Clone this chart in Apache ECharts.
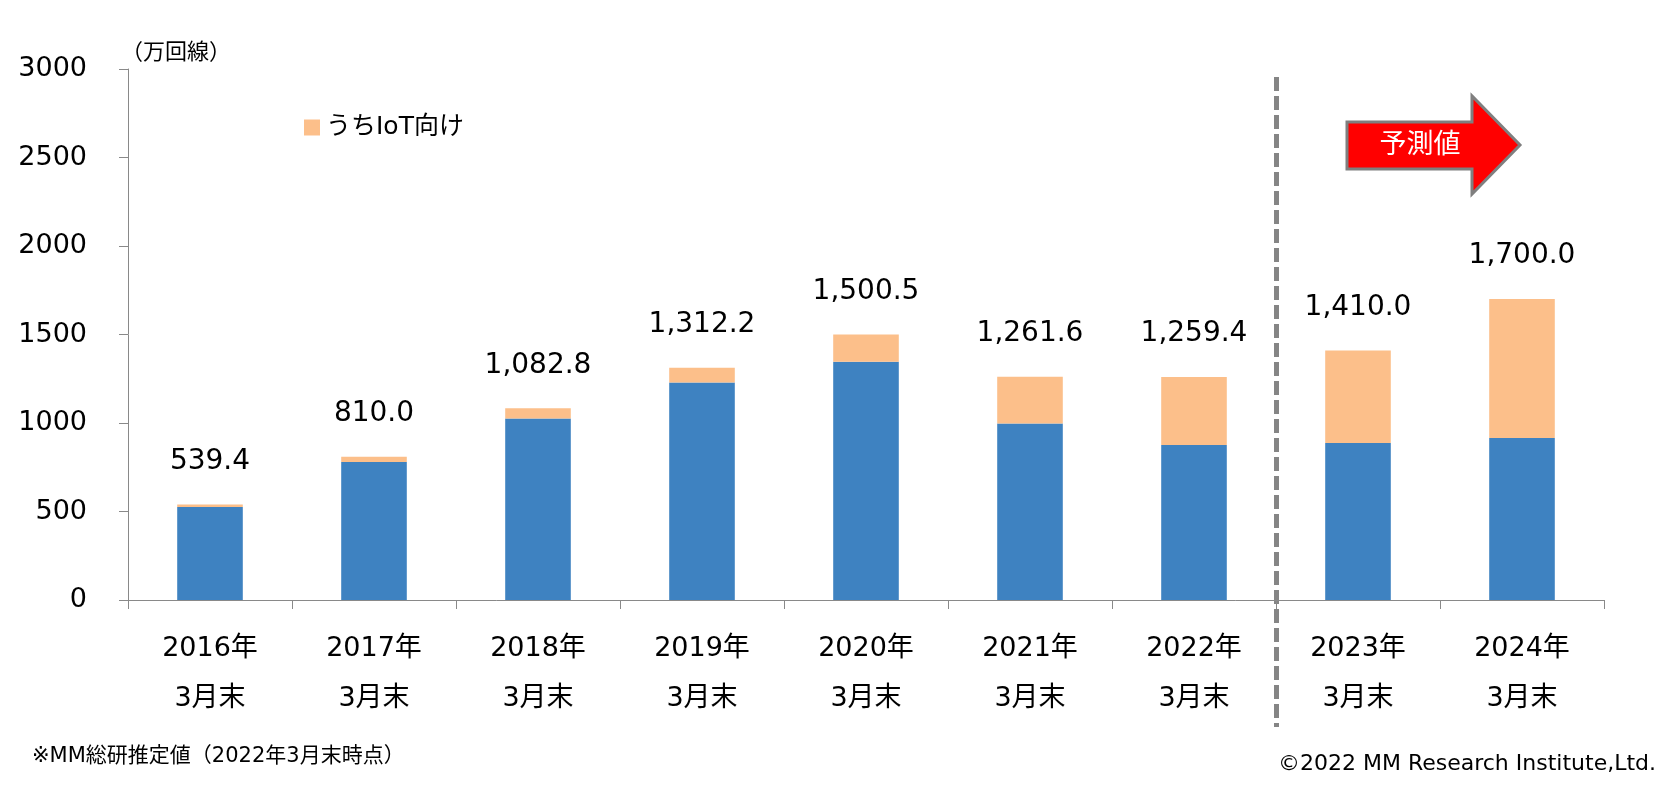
<!DOCTYPE html>
<html>
<head>
<meta charset="utf-8">
<script src="https://cdn.jsdelivr.net/npm/echarts@6/dist/echarts.min.js"></script>
<style>
html,body{margin:0;padding:0;background:#fff;}
#chart{width:1677px;height:800px;}
</style>
</head>
<body>
<div id="chart"></div>
<script>
const categories = ['2016年\n3月末','2017年\n3月末','2018年\n3月末','2019年\n3月末','2020年\n3月末','2021年\n3月末','2022年\n3月末','2023年\n3月末','2024年\n3月末'];
const otherValues = [526.0, 779.0, 1026.0, 1228.2, 1346.0, 997.0, 876.0, 887.0, 915.0];
const iotValues = [13.4, 31.0, 56.8, 84.0, 154.5, 264.6, 383.4, 523.0, 785.0];
const yTicks = [0, 500, 1000, 1500, 2000, 2500, 3000];
const seriesNames = ['その他', 'うちIoT向け'];
const unitText = '（万回線）';
const forecastText = '予測値';
const noteText = '※MM総研推定値（2022年3月末時点）';
const copyrightText = '©2022 MM Research Institute,Ltd.';

const FONT = "'DejaVu Sans', 'Noto Sans CJK JP', sans-serif";
const fmt = new Intl.NumberFormat('en-US', {minimumFractionDigits: 1, maximumFractionDigits: 1});
const totals = otherValues.map((v, i) => Math.round((v + iotValues[i]) * 10) / 10);

const chart = echarts.init(document.getElementById('chart'), null, {renderer: 'canvas'});
const option = {
  animation: false,
  backgroundColor: '#ffffff',
  textStyle: {fontFamily: FONT, color: '#000'},
  grid: {left: 128, right: 73, top: 69, bottom: 200},
  legend: {
    data: [seriesNames[1]],
    left: 304, top: 115, padding: 0,
    icon: 'rect', itemWidth: 16, itemHeight: 16, itemGap: 10,
    textStyle: {fontSize: 25, color: '#000', fontFamily: FONT, padding: [0, 0, 0, 1]}
  },
  xAxis: {
    type: 'category',
    data: categories,
    axisLine: {lineStyle: {color: '#898989', width: 1}},
    axisTick: {show: true, length: 9, lineStyle: {color: '#898989'}},
    axisLabel: {fontSize: 27, lineHeight: 50, margin: 24, color: '#000', fontFamily: FONT, interval: 0}
  },
  yAxis: {
    type: 'value',
    min: yTicks[0], max: yTicks[yTicks.length - 1], interval: yTicks[1] - yTicks[0],
    axisLine: {show: true, lineStyle: {color: '#898989', width: 1}},
    axisTick: {show: true, length: 9, lineStyle: {color: '#898989'}},
    splitLine: {show: false},
    axisLabel: {fontSize: 27, margin: 41, color: '#000', fontFamily: FONT, formatter: v => String(v)}
  },
  series: [
    {
      name: seriesNames[0], type: 'bar', stack: 'total', barWidth: '40%',
      itemStyle: {color: '#3E82C1'},
      data: otherValues
    },
    {
      name: seriesNames[1], type: 'bar', stack: 'total', barWidth: '40%',
      itemStyle: {color: '#FCBF8A'},
      data: iotValues,
      label: {
        show: true, position: 'top', distance: 29,
        fontSize: 28, color: '#000', fontFamily: FONT,
        formatter: p => fmt.format(totals[p.dataIndex])
      }
    }
  ]
};
chart.setOption(option);

// boundary between 2022 and 2023 (forecast divider)
const p6 = chart.convertToPixel({xAxisIndex: 0}, categories[6]);
const p7 = chart.convertToPixel({xAxisIndex: 0}, categories[7]);
const divX = Math.round((p6 + p7) / 2) + 0.5;

chart.setOption({
  graphic: [
    {type: 'text', left: 121, top: 42, style: {text: unitText, fontSize: 22, fill: '#000', fontFamily: FONT}},
    {type: 'line', shape: {x1: divX, y1: 77, x2: divX, y2: 727},
     style: {stroke: '#858585', lineWidth: 5, lineDash: [14, 5]}},
    {type: 'polygon',
     shape: {points: [[1347,122],[1472,122],[1472,96],[1520,145],[1472,194],[1472,169],[1347,169]]},
     style: {fill: '#FF0000', stroke: '#7F7F7F', lineWidth: 3}},
    {type: 'text', x: 1420, y: 146,
     style: {text: forecastText, fontSize: 27, fill: '#fff', fontFamily: FONT, align: 'center', verticalAlign: 'middle'}},
    {type: 'text', x: 32, y: 757,
     style: {text: noteText, fontSize: 21, fill: '#000', fontFamily: FONT, align: 'left', verticalAlign: 'middle'}},
    {type: 'text', x: 1656, y: 764,
     style: {text: copyrightText, fontSize: 22, fill: '#000', fontFamily: FONT, align: 'right', verticalAlign: 'middle'}}
  ]
});
</script>
</body>
</html>
